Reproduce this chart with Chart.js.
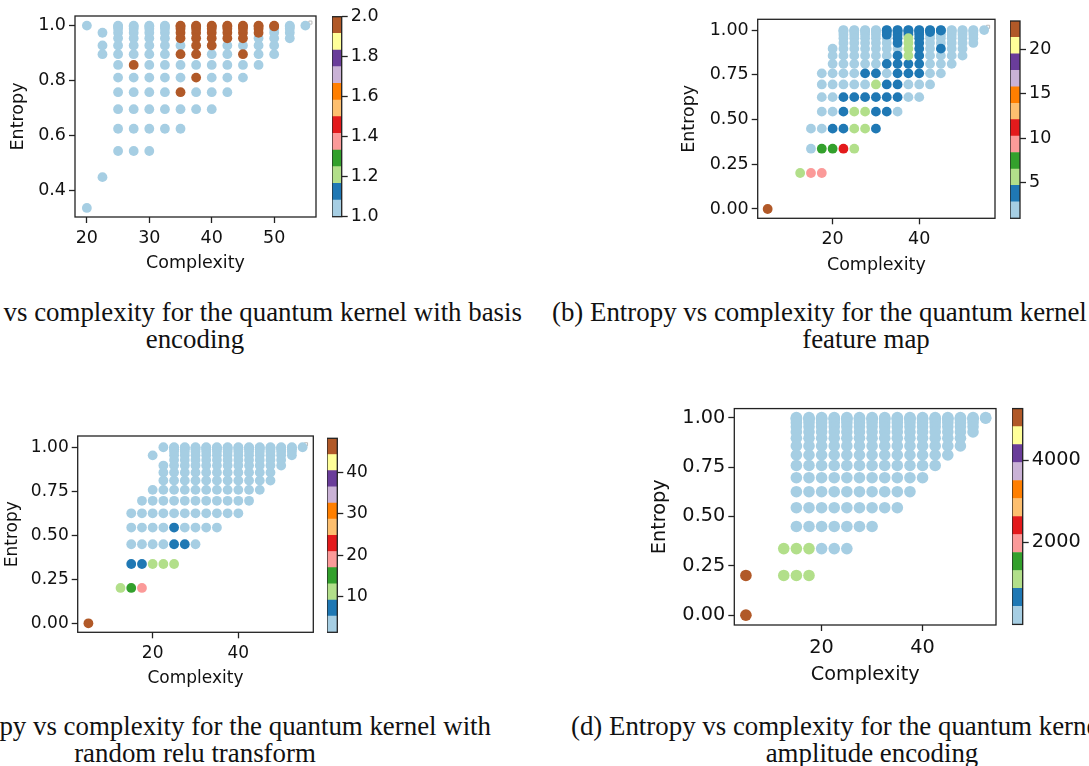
<!DOCTYPE html>
<html>
<head>
<meta charset="utf-8">
<script src="https://cdn.jsdelivr.net/npm/chart.js@4.4.1/dist/chart.umd.min.js"></script>
<style>
  html, body { margin: 0; background: #fff; }
  body { width: 1089px; height: 766px; overflow: hidden; position: relative; }
  canvas { position: absolute; }
  .cap { position: absolute; white-space: nowrap; font-family: 'Liberation Serif', 'Times New Roman', serif; color: #111; line-height: 1; }
</style>
</head>
<body>
<canvas id="sa"></canvas><canvas id="ca"></canvas>
<canvas id="sb"></canvas><canvas id="cb"></canvas>
<canvas id="sc"></canvas><canvas id="cc"></canvas>
<canvas id="sd"></canvas><canvas id="cd"></canvas>
<div class="cap" id="a1">(a) Entropy vs complexity for the quantum kernel with basis</div>
<div class="cap" id="a2">encoding</div>
<div class="cap" id="b1">(b) Entropy vs complexity for the quantum kernel</div>
<div class="cap" id="b2">feature map</div>
<div class="cap" id="c1">(c) Entropy vs complexity for the quantum kernel with</div>
<div class="cap" id="c2">random relu transform</div>
<div class="cap" id="d1">(d) Entropy vs complexity for the quantum kernel with</div>
<div class="cap" id="d2">amplitude encoding</div>
<script>
// each row: [entropy, complexities, colour values (one per point, or one for the whole row)]
const basisRows = [
  [1.000, [20,25,27.5,30,32.5,35,37.5,40,42.5,45,47.5,50,52.5,55], [1,1,1,1,1,2,2,2,2,2,2,2,1,1]],
  [0.997, [25,27.5,30,32.5,35,37.5,40,42.5,45,47.5,50,52.5], [1,1,1,1,2,2,2,2,2,2,2,1]],
  [0.989, [25,27.5,30,32.5,35,37.5,40,42.5,45,47.5,50,52.5], [1,1,1,1,2,2,2,2,2,2,1,1]],
  [0.974, [22.5,25,27.5,30,32.5,35,37.5,40,42.5,45,47.5,50,52.5], [1,1,1,1,1,2,2,2,2,2,2,1,1]],
  [0.954, [25,27.5,30,32.5,35,37.5,40,42.5,45,47.5,50,52.5], [1,1,1,1,2,2,2,2,2,1,1,1]],
  [0.928, [22.5,25,27.5,30,32.5,35,37.5,40,42.5,45,47.5,50], [1,1,1,1,1,1,2,2,1,1,1,1]],
  [0.896, [22.5,25,27.5,30,32.5,35,37.5,40,42.5,45,47.5,50], [1,1,1,1,1,2,2,1,1,2,1,1]],
  [0.857, [25,27.5,30,32.5,35,37.5,40,42.5,45,47.5], [1,2,1,1,1,1,1,1,1,1]],
  [0.811, [25,27.5,30,32.5,35,37.5,40,42.5,45], [1,1,1,1,1,2,1,1,1]],
  [0.758, [25,27.5,30,32.5,35,37.5,40,42.5], [1,1,1,1,2,1,1,1]],
  [0.696, [25,27.5,30,32.5,35,37.5,40], 1],
  [0.625, [25,27.5,30,32.5,35], 1],
  [0.544, [25,27.5,30], 1],
  [0.449, [22.5], 1],
  [0.337, [20], 1]
];

const featureRows = [
  [1.000, [22.5,25,27.5,30,32.5,35,37.5,40,42.5,45,47.5,50,52.5,55], [2,2,2,2,4,4,4,4,4,4,2,2,2,2]],
  [0.997, [22.5,25,27.5,30,32.5,35,37.5,40,42.5,45,47.5,50,52.5], [2,2,2,2,4,4,4,4,4,4,2,2,2]],
  [0.989, [22.5,25,27.5,30,32.5,35,37.5,40,42.5,45,47.5,50,52.5], [2,2,2,2,4,4,4,4,4,2,2,2,2]],
  [0.974, [22.5,25,27.5,30,32.5,35,37.5,40,42.5,45,47.5,50,52.5], [2,2,2,2,4,4,4,4,2,2,2,2,2]],
  [0.954, [22.5,25,27.5,30,32.5,35,37.5,40,42.5,45,47.5,50,52.5], [2,2,2,2,2,4,6,4,2,2,2,2,2]],
  [0.928, [22.5,25,27.5,30,32.5,35,37.5,40,42.5,45,47.5,50,52.5], [2,2,2,2,2,4,6,4,2,2,2,2,2]],
  [0.896, [20,22.5,25,27.5,30,32.5,35,37.5,40,42.5,45,47.5,50], [2,2,2,2,2,2,2,6,4,2,4,2,2]],
  [0.857, [20,22.5,25,27.5,30,32.5,35,37.5,40,42.5,45,47.5,50], [2,2,2,2,2,2,4,6,4,2,2,2,2]],
  [0.811, [20,22.5,25,27.5,30,32.5,35,37.5,40,42.5,45,47.5], [2,2,2,2,2,4,4,4,4,2,2,2]],
  [0.758, [17.5,20,22.5,25,27.5,30,32.5,35,37.5,40,42.5,45], [2,2,2,2,4,4,2,4,4,4,2,2]],
  [0.696, [17.5,20,22.5,25,27.5,30,32.5,35,37.5,40,42.5], [2,2,2,2,2,6,4,4,2,2,2]],
  [0.625, [17.5,20,22.5,25,27.5,30,32.5,35,37.5,40], [2,2,4,4,4,4,4,4,2,2]],
  [0.544, [17.5,20,22.5,25,27.5,30,32.5,35], [2,2,4,6,6,4,4,2]],
  [0.449, [15,17.5,20,22.5,25,27.5,30], [2,2,4,4,6,6,4]],
  [0.337, [15,17.5,20,22.5,25], [2,7.5,7.5,11,6]],
  [0.201, [12.5,15,17.5], [6,9,9]],
  [0.000, [5], [23]]
];

const reluRows = [
  [1.000, [22.5,25,27.5,30,32.5,35,37.5,40,42.5,45,47.5,50,52.5,55], 2],
  [0.997, [25,27.5,30,32.5,35,37.5,40,42.5,45,47.5,50,52.5], 2],
  [0.989, [25,27.5,30,32.5,35,37.5,40,42.5,45,47.5,50,52.5], 2],
  [0.974, [25,27.5,30,32.5,35,37.5,40,42.5,45,47.5,50,52.5], 2],
  [0.954, [20,25,27.5,30,32.5,35,37.5,40,42.5,45,47.5,50,52.5], 2],
  [0.928, [25,27.5,30,32.5,35,37.5,40,42.5,45,47.5,50], 2],
  [0.896, [22.5,25,27.5,30,32.5,35,37.5,40,42.5,45,47.5,50], 2],
  [0.857, [22.5,25,27.5,30,32.5,35,37.5,40,42.5,45,47.5], 2],
  [0.811, [22.5,25,27.5,30,32.5,35,37.5,40,42.5,45,47.5], 2],
  [0.758, [20,22.5,25,27.5,30,32.5,35,37.5,40,42.5,45], 2],
  [0.696, [17.5,20,22.5,25,27.5,30,32.5,35,37.5,40,42.5], 2],
  [0.625, [15,17.5,20,22.5,25,27.5,30,32.5,35,37.5,40], 2],
  [0.544, [15,17.5,20,22.5,25,27.5,30,32.5,35], [2,2,2,2,7,2,2,2,2]],
  [0.449, [15,17.5,20,22.5,25,27.5,30], [2,2,2,2,7,7,2]],
  [0.337, [15,17.5,20,22.5,25], [7,7,11,11,11]],
  [0.201, [12.5,15,17.5], [11,15,19]],
  [0.000, [5], 47]
];

const amplitudeRows = [
  [1.000, [15,17.5,20,22.5,25,27.5,30,32.5,35,37.5,40,42.5,45,47.5,50,52.5], 200],
  [0.997, [15,17.5,20,22.5,25,27.5,30,32.5,35,37.5,40,42.5,45,47.5,50,52.5], 200],
  [0.989, [15,17.5,20,22.5,25,27.5,30,32.5,35,37.5,40,42.5,45,47.5,50], 200],
  [0.974, [15,17.5,20,22.5,25,27.5,30,32.5,35,37.5,40,42.5,45,47.5,50], 200],
  [0.954, [15,17.5,20,22.5,25,27.5,30,32.5,35,37.5,40,42.5,45,47.5,50], 200],
  [0.928, [15,17.5,20,22.5,25,27.5,30,32.5,35,37.5,40,42.5,45,47.5,50], 200],
  [0.896, [15,17.5,20,22.5,25,27.5,30,32.5,35,37.5,40,42.5,45,47.5], 200],
  [0.857, [15,17.5,20,22.5,25,27.5,30,32.5,35,37.5,40,42.5,45,47.5], 200],
  [0.811, [15,17.5,20,22.5,25,27.5,30,32.5,35,37.5,40,42.5,45], 200],
  [0.758, [15,17.5,20,22.5,25,27.5,30,32.5,35,37.5,40,42.5], 200],
  [0.696, [15,17.5,20,22.5,25,27.5,30,32.5,35,37.5,40], 200],
  [0.625, [15,17.5,20,22.5,25,27.5,30,32.5,35,37.5], 200],
  [0.544, [15,17.5,20,22.5,25,27.5,30,32.5,35], 200],
  [0.449, [15,17.5,20,22.5,25,27.5,30], 200],
  [0.337, [12.5,15,17.5,20,22.5,25], [1100,1100,1100,200,200,200]],
  [0.201, [5,12.5,15,17.5], [5200,1100,1100,1100]],
  [0.000, [5], 5200]
];

// colour-bar ranges and ticks
const basisRange = [1, 2],      basisBarTicks = [1, 1.2, 1.4, 1.6, 1.8, 2];
const featureRange = [1, 23.2], featureBarTicks = [5, 10, 15, 20];
const reluRange = [1.4, 48.2],  reluBarTicks = [10, 20, 30, 40];
const ampRange = [1, 5256],     ampBarTicks = [2000, 4000];

const entropyTicksA = [0.4, 0.6, 0.8, 1.0], complexityTicksA = [20, 30, 40, 50];
const entropyTicks = [0, 0.25, 0.5, 0.75, 1.0], complexityTicks = [20, 40];

const paired = ['#a6cee3','#1f78b4','#b2df8a','#33a02c','#fb9a99','#e31a1c',
                '#fdbf6f','#ff7f00','#cab2d6','#6a3d9a','#ffff99','#b15928'];

function colorOf(v, range) {
  let i = Math.floor((v - range[0]) / (range[1] - range[0]) * 12);
  return paired[Math.max(0, Math.min(11, i))];
}

function toPoints(rows) {
  const pts = [];
  rows.forEach(([y, xs, vs]) => xs.forEach((x, i) => pts.push({x: x, y: y, v: Array.isArray(vs) ? vs[i] : vs})));
  return pts.sort((p, q) => p.v - q.v);   // high counts drawn on top
}

const frame = {
  id: 'frame',
  afterDraw(chart) {
    const {ctx, chartArea: a} = chart;
    ctx.save();
    ctx.strokeStyle = '#222';
    ctx.lineWidth = 1.3;
    ctx.strokeRect(a.left, a.top, a.right - a.left, a.bottom - a.top);
    ctx.restore();
  }
};

function place(cv, left, top, w, h) {
  cv.width = w; cv.height = h;
  cv.style.left = left + 'px'; cv.style.top = top + 'px';
}

const FONT = "'DejaVu Sans', sans-serif";

function scatter(id, rows, range, box, ax) {
  const fs = box.font;
  const cl = Math.round(box.yTitleX - 0.6 * fs), ct = Math.round(box.t - 14);
  const cr = Math.round(box.r + 12), cbot = Math.round(box.xTitleY + 0.6 * fs);
  const cv = document.getElementById(id);
  place(cv, cl, ct, cr - cl, cbot - ct);
  const pts = toPoints(rows);
  const axis = (ticks, dec, title, pad) => ({
    type: 'linear',
    afterBuildTicks: s => { s.ticks = ticks.map(v => ({value: v})); },
    grid: {drawOnChartArea: false, drawTicks: true, tickLength: 6, tickWidth: 1.3, tickColor: '#222'},
    border: {display: false},
    ticks: {font: {family: FONT, size: fs}, color: '#111', padding: pad, callback: v => v.toFixed(dec)},
    title: {display: true, text: title, font: {family: FONT, size: fs}, color: '#111', padding: 0}
  });
  const x = Object.assign(axis(ax.xTicks, 0, 'Complexity', 5), {min: ax.x[0], max: ax.x[1], afterFit: s => { s.height = cbot - box.b; }});
  const y = Object.assign(axis(ax.yTicks, ax.yDec, 'Entropy', 3), {min: ax.y[0], max: ax.y[1], afterFit: s => { s.width = box.l - cl; }});
  new Chart(cv, {
    type: 'scatter',
    data: {datasets: [
      {data: pts, pointRadius: box.dot, pointHoverRadius: box.dot, pointBorderWidth: 0,
       pointBackgroundColor: pts.map(p => colorOf(p.v, range))},
      {data: [ax.mark], pointStyle: 'rect', pointRadius: 2.2, pointBackgroundColor: '#fff',
       pointBorderColor: '#bbb', pointBorderWidth: 1}
    ]},
    options: {
      responsive: false, animation: false, events: [],
      layout: {padding: {top: box.t - ct, right: cr - box.r, left: 0, bottom: 0}},
      plugins: {legend: {display: false}, tooltip: {enabled: false}},
      scales: {x: x, y: y}
    },
    plugins: [frame]
  });
}

function colorbar(id, range, ticks, box, dec) {
  const fs = box.font;
  const cl = Math.round(box.l), ct = Math.round(box.t - 14);
  const w = box.w, h = Math.round(box.b + 14) - ct;
  const cv = document.getElementById(id);
  place(cv, cl, ct, w, h);
  const step = (range[1] - range[0]) / 12;
  new Chart(cv, {
    type: 'bar',
    data: {labels: [''], datasets: paired.map((c, i) => ({
      data: [[range[0] + i * step, range[0] + (i + 1) * step]],
      backgroundColor: c, borderWidth: 0, grouped: false, barPercentage: 1, categoryPercentage: 1
    }))},
    options: {
      responsive: false, animation: false, events: [],
      layout: {padding: {top: box.t - ct, bottom: h - (box.b - ct), left: 0, right: 0}},
      plugins: {legend: {display: false}, tooltip: {enabled: false}},
      scales: {
        x: {display: false},
        y: {
          position: 'right', min: range[0], max: range[1],
          afterBuildTicks: s => { s.ticks = ticks.map(v => ({value: v})); },
          afterFit: s => { s.width = w - (box.r - cl); },
          grid: {drawOnChartArea: false, drawTicks: true, tickLength: 6, tickWidth: 1.3, tickColor: '#222'},
          border: {display: false},
          ticks: {font: {family: FONT, size: fs}, color: '#111', padding: 3, callback: v => v.toFixed(dec)}
        }
      }
    },
    plugins: [frame]
  });
}

scatter('sa', basisRows, basisRange,
  {l: 75, r: 316, t: 16, b: 217, yTitleX: 18.3, xTitleY: 263.3, font: 17.5, dot: 4.9},
  {x: [18.1, 56.7], y: [0.304, 1.035], xTicks: complexityTicksA, yTicks: entropyTicksA, yDec: 1, mark: {x: 55.8, y: 1.011}});
scatter('sb', featureRows, featureRange,
  {l: 757.7, r: 995, t: 19.3, b: 218.3, yTitleX: 689.7, xTitleY: 265, font: 17.5, dot: 4.9},
  {x: [2.7, 57.5], y: [-0.052, 1.06], xTicks: complexityTicks, yTicks: entropyTicks, yDec: 2, mark: {x: 55.9, y: 1.018}});
scatter('sc', reluRows, reluRange,
  {l: 77.7, r: 313.3, t: 436, b: 632.3, yTitleX: 11.7, xTitleY: 678.3, font: 17, dot: 4.9},
  {x: [2.5, 57.5], y: [-0.051, 1.064], xTicks: complexityTicks, yTicks: entropyTicks, yDec: 2, mark: {x: 55.8, y: 1.017}});
scatter('sd', amplitudeRows, ampRange,
  {l: 734.3, r: 996, t: 408.3, b: 625, yTitleX: 659.2, xTitleY: 675, font: 19.3, dot: 5.8},
  {x: [2.7, 54.55], y: [-0.05, 1.046], xTicks: complexityTicks, yTicks: entropyTicks, yDec: 2, mark: {x: 53, y: 1.012}});

colorbar('ca', basisRange, basisBarTicks, {l: 331.7, r: 341.7, t: 16.7, b: 216.7, w: 58, font: 17.5}, 1);
colorbar('cb', featureRange, featureBarTicks, {l: 1010, r: 1020, t: 21, b: 218.3, w: 60, font: 17.5}, 0);
colorbar('cc', reluRange, reluBarTicks, {l: 327.3, r: 337.3, t: 438.3, b: 632.3, w: 60, font: 17}, 0);
colorbar('cd', ampRange, ampBarTicks, {l: 1011.7, r: 1022.7, t: 408.3, b: 625, w: 77, font: 19.3}, 0);

// captions: size the serif face so the (b) first line spans what the picture shows
const capFace = "'Liberation Serif', 'Times New Roman', serif";
const meas = document.createElement('canvas').getContext('2d');
meas.font = '100px ' + capFace;
const capSize = 100 * 535 / meas.measureText('(b) Entropy vs complexity for the quantum kernel').width;

function caption(id, baseline, opts) {
  const el = document.getElementById(id);
  el.style.fontSize = capSize + 'px';
  el.style.top = (baseline - 0.8375 * capSize) + 'px';
  if (opts.right != null) { el.style.right = (1089 - opts.right) + 'px'; el.style.textAlign = 'right'; }
  if (opts.left != null) el.style.left = opts.left + 'px';
  if (opts.center != null) { el.style.left = (opts.center - 400) + 'px'; el.style.width = '800px'; el.style.textAlign = 'center'; }
}
caption('a1', 322, {right: 522});
caption('a2', 349, {center: 195});
caption('b1', 322, {left: 552});
caption('b2', 349, {center: 866});
caption('c1', 736, {right: 491});
caption('c2', 763, {center: 195});
caption('d1', 736, {left: 571});
caption('d2', 763, {center: 872});
</script>
</body>
</html>
